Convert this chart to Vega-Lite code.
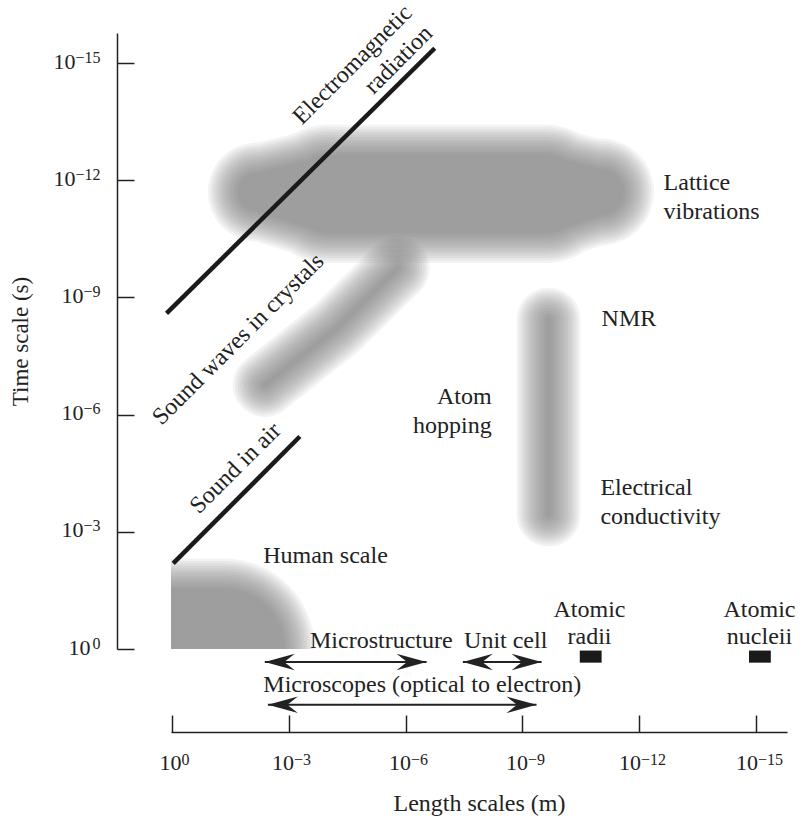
{
  "$schema": "https://vega.github.io/schema/vega-lite/v6.json",
  "width": 616,
  "height": 616,
  "autosize": {"type": "none"},
  "padding": {"left": 171, "top": 33, "right": 24, "bottom": 169},
  "background": "white",
  "config": {"view": {"stroke": null}, "font": "Liberation Serif"},
  "resolve": {"scale": {"x": "independent", "y": "independent", "size": "independent"}, "axis": {"x": "independent", "y": "independent"}},
  "datasets": {
    "blobs": [
      {"blob": "Sound waves in crystals", "seq": 1, "x": 2.39, "y": 6.76, "h": 0.1},
      {"blob": "Sound waves in crystals", "seq": 2, "x": 4.24, "y": 8.22, "h": 0.1},
      {"blob": "Sound waves in crystals", "seq": 3, "x": 5.8, "y": 9.75, "h": 0.1},
      {"blob": "NMR / conductivity", "seq": 1, "x": 9.67, "y": 8.43, "h": 0.1},
      {"blob": "NMR / conductivity", "seq": 2, "x": 9.67, "y": 3.44, "h": 0.1},
      {"blob": "Lattice vibrations", "seq": 1, "x": 2.2, "y": 11.7, "h": 1.0},
      {"blob": "Lattice vibrations", "seq": 2, "x": 4.0, "y": 11.65, "h": 2.0},
      {"blob": "Lattice vibrations", "seq": 3, "x": 9.6, "y": 11.65, "h": 2.0},
      {"blob": "Lattice vibrations", "seq": 4, "x": 11.0, "y": 11.7, "h": 1.2},
      {"blob": "Human scale", "seq": 1, "x": -2, "y": 0, "h": 3.1},
      {"blob": "Human scale", "seq": 2, "x": 1.35, "y": 0, "h": 3.1}
    ],
    "lines": [
      {"line": "Electromagnetic radiation", "x": -0.13, "y": 8.59},
      {"line": "Electromagnetic radiation", "x": 6.75, "y": 15.38},
      {"line": "Sound in air", "x": 0.04, "y": 2.19},
      {"line": "Sound in air", "x": 3.29, "y": 5.44}
    ],
    "arrows": [
      {"arrow": "Microstructure", "end": "left", "x": 2.39, "y": -0.33},
      {"arrow": "Microstructure", "end": "right", "x": 6.54, "y": -0.33},
      {"arrow": "Unit cell", "end": "left", "x": 7.47, "y": -0.33},
      {"arrow": "Unit cell", "end": "right", "x": 9.49, "y": -0.33},
      {"arrow": "Microscopes", "end": "left", "x": 2.47, "y": -1.43},
      {"arrow": "Microscopes", "end": "right", "x": 9.36, "y": -1.43}
    ],
    "markers": [
      {"marker": "Atomic radii", "x": 10.47, "x2": 11.03, "y": -0.35, "y2": -0.04},
      {"marker": "Atomic nucleii", "x": 14.81, "x2": 15.37, "y": -0.35, "y2": -0.04}
    ],
    "leftLabels": [
      {"label": "Lattice\nvibrations", "x": 12.62, "y": 11.75},
      {"label": "NMR", "x": 11.03, "y": 8.27},
      {"label": "Electrical\nconductivity", "x": 11.0, "y": 3.94},
      {"label": "Human scale", "x": 2.35, "y": 2.2}
    ],
    "rightLabels": [
      {"label": "Atom\nhopping", "x": 8.21, "y": 6.27}
    ],
    "centerLabels": [
      {"label": "Microstructure", "x": 5.38, "y": 0.03},
      {"label": "Unit cell", "x": 8.57, "y": 0.03},
      {"label": "Atomic\nradii", "x": 10.72, "y": 0.83},
      {"label": "Atomic\nnucleii", "x": 15.08, "y": 0.83},
      {"label": "Microscopes (optical to electron)", "x": 6.43, "y": -1.09}
    ],
    "rotRightLabels": [
      {"label": "Electromagnetic\nradiation", "x": 6.2, "y": 16.25}
    ],
    "rotCenterLabels": [
      {"label": "Sound waves in crystals", "x": 1.84, "y": 7.8},
      {"label": "Sound in air", "x": 1.77, "y": 4.5}
    ]
  },
  "encoding": {
    "x": {"field": "x", "type": "quantitative", "scale": {"domain": [-0.015, 15.785], "nice": false, "zero": false}, "axis": null},
    "y": {"field": "y", "type": "quantitative", "scale": {"domain": [0, 15.77], "nice": false, "zero": false}, "axis": null}
  },
  "layer": [
    {"data": {"name": "blobs"}, "mark": {"type": "trail", "color": "#777777", "opacity": 0.092, "clip": true}, "encoding": {"detail": {"field": "blob"}, "order": {"field": "seq"}, "size": {"field": "h", "type": "quantitative", "scale": {"domain": [0, 15.77], "range": [0, 616]}, "legend": null}}},
    {"data": {"name": "blobs"}, "mark": {"type": "trail", "color": "#777777", "opacity": 0.092, "clip": true}, "encoding": {"detail": {"field": "blob"}, "order": {"field": "seq"}, "size": {"field": "h", "type": "quantitative", "scale": {"domain": [0, 15.77], "range": [5, 621]}, "legend": null}}},
    {"data": {"name": "blobs"}, "mark": {"type": "trail", "color": "#777777", "opacity": 0.092, "clip": true}, "encoding": {"detail": {"field": "blob"}, "order": {"field": "seq"}, "size": {"field": "h", "type": "quantitative", "scale": {"domain": [0, 15.77], "range": [10, 626]}, "legend": null}}},
    {"data": {"name": "blobs"}, "mark": {"type": "trail", "color": "#777777", "opacity": 0.092, "clip": true}, "encoding": {"detail": {"field": "blob"}, "order": {"field": "seq"}, "size": {"field": "h", "type": "quantitative", "scale": {"domain": [0, 15.77], "range": [15, 631]}, "legend": null}}},
    {"data": {"name": "blobs"}, "mark": {"type": "trail", "color": "#777777", "opacity": 0.092, "clip": true}, "encoding": {"detail": {"field": "blob"}, "order": {"field": "seq"}, "size": {"field": "h", "type": "quantitative", "scale": {"domain": [0, 15.77], "range": [20, 636]}, "legend": null}}},
    {"data": {"name": "blobs"}, "mark": {"type": "trail", "color": "#777777", "opacity": 0.092, "clip": true}, "encoding": {"detail": {"field": "blob"}, "order": {"field": "seq"}, "size": {"field": "h", "type": "quantitative", "scale": {"domain": [0, 15.77], "range": [25, 641]}, "legend": null}}},
    {"data": {"name": "blobs"}, "mark": {"type": "trail", "color": "#777777", "opacity": 0.092, "clip": true}, "encoding": {"detail": {"field": "blob"}, "order": {"field": "seq"}, "size": {"field": "h", "type": "quantitative", "scale": {"domain": [0, 15.77], "range": [30, 646]}, "legend": null}}},
    {"data": {"name": "blobs"}, "mark": {"type": "trail", "color": "#777777", "opacity": 0.092, "clip": true}, "encoding": {"detail": {"field": "blob"}, "order": {"field": "seq"}, "size": {"field": "h", "type": "quantitative", "scale": {"domain": [0, 15.77], "range": [35, 651]}, "legend": null}}},
    {"data": {"name": "blobs"}, "mark": {"type": "trail", "color": "#777777", "opacity": 0.092, "clip": true}, "encoding": {"detail": {"field": "blob"}, "order": {"field": "seq"}, "size": {"field": "h", "type": "quantitative", "scale": {"domain": [0, 15.77], "range": [40, 656]}, "legend": null}}},
    {"data": {"name": "blobs"}, "mark": {"type": "trail", "color": "#777777", "opacity": 0.092, "clip": true}, "encoding": {"detail": {"field": "blob"}, "order": {"field": "seq"}, "size": {"field": "h", "type": "quantitative", "scale": {"domain": [0, 15.77], "range": [45, 661]}, "legend": null}}},
    {"data": {"name": "blobs"}, "mark": {"type": "trail", "color": "#777777", "opacity": 0.092, "clip": true}, "encoding": {"detail": {"field": "blob"}, "order": {"field": "seq"}, "size": {"field": "h", "type": "quantitative", "scale": {"domain": [0, 15.77], "range": [50, 666]}, "legend": null}}},
    {"data": {"name": "blobs"}, "mark": {"type": "trail", "color": "#777777", "opacity": 0.092, "clip": true}, "encoding": {"detail": {"field": "blob"}, "order": {"field": "seq"}, "size": {"field": "h", "type": "quantitative", "scale": {"domain": [0, 15.77], "range": [55, 671]}, "legend": null}}},
    {"data": {"name": "blobs"}, "mark": {"type": "trail", "color": "#777777", "opacity": 0.092, "clip": true}, "encoding": {"detail": {"field": "blob"}, "order": {"field": "seq"}, "size": {"field": "h", "type": "quantitative", "scale": {"domain": [0, 15.77], "range": [60, 676]}, "legend": null}}},
    {"data": {"name": "lines"}, "mark": {"type": "line", "strokeWidth": 4.5, "color": "#1a1a1a", "strokeCap": "butt"}, "encoding": {"detail": {"field": "line"}}},
    {"data": {"name": "arrows"}, "mark": {"type": "line", "strokeWidth": 2, "color": "#222222"}, "encoding": {"detail": {"field": "arrow"}}},
    {
      "data": {"name": "arrows"},
      "mark": {"type": "point", "filled": true, "size": 900, "opacity": 1, "color": "#222222", "strokeWidth": 0},
      "encoding": {"shape": {"field": "end", "type": "nominal", "scale": {"domain": ["left", "right"], "range": ["M0,0L2,-0.55L1.3,0L2,0.55Z", "M0,0L-2,-0.55L-1.3,0L-2,0.55Z"]}, "legend": null}}
    },
    {
      "data": {"name": "markers"},
      "mark": {"type": "rect", "color": "#1a1a1a"},
      "encoding": {
        "x": {
          "field": "x", "type": "quantitative",
          "scale": {"domain": [-0.015, 15.785], "nice": false, "zero": false},
          "axis": {
            "title": "Length scales (m)", "orient": "bottom", "offset": 83,
            "values": [0, 3, 6, 9, 12, 15],
            "labelExpr": "'10'", "labelAlign": "right",
            "labelOffset": {"condition": [{"test": "datum.value == 0", "value": 9.5}, {"test": "datum.value >= 12", "value": 1}], "value": 5},
            "grid": false, "tickSize": -17, "tickWidth": 1.5, "tickColor": "#222222",
            "domainColor": "#222222", "domainWidth": 1.5,
            "labelFont": "Liberation Serif", "labelFontSize": 22, "labelColor": "#222222",
            "labelPadding": 37, "labelFlush": false, "labelOverlap": false,
            "titleFont": "Liberation Serif", "titleFontSize": 24, "titleFontWeight": "normal",
            "titleColor": "#222222", "titlePadding": 18
          }
        },
        "x2": {"field": "x2"},
        "y": {
          "field": "y", "type": "quantitative",
          "scale": {"domain": [0, 15.77], "nice": false, "zero": false},
          "axis": {
            "title": "Time scale (s)", "orient": "left", "offset": 54,
            "values": [0, 3, 6, 9, 12, 15],
            "labelExpr": "'10'", "labelAlign": "right",
            "labelPadding": {"condition": [{"test": "datum.value >= 12", "value": 59}, {"test": "datum.value == 0", "value": 44}], "value": 51},
            "labelOffset": -2,
            "grid": false, "tickSize": -17, "tickWidth": 1.5, "tickColor": "#222222",
            "domainColor": "#222222", "domainWidth": 1.5,
            "labelFont": "Liberation Serif", "labelFontSize": 22, "labelColor": "#222222",
            "labelFlush": false, "labelOverlap": false,
            "titleFont": "Liberation Serif", "titleFontSize": 23, "titleFontWeight": "normal",
            "titleColor": "#222222", "titlePadding": 21
          }
        },
        "y2": {"field": "y2"}
      }
    },
    {"data": {"name": "leftLabels"}, "mark": {"type": "text", "align": "left", "baseline": "alphabetic", "font": "Liberation Serif", "fontSize": 24, "lineHeight": 29, "lineBreak": "\n", "color": "#222222"}, "encoding": {"text": {"field": "label"}}},
    {"data": {"name": "rightLabels"}, "mark": {"type": "text", "align": "right", "baseline": "alphabetic", "font": "Liberation Serif", "fontSize": 24, "lineHeight": 29, "lineBreak": "\n", "color": "#222222"}, "encoding": {"text": {"field": "label"}}},
    {
      "data": {"name": "centerLabels"},
      "mark": {"type": "text", "align": "center", "baseline": "alphabetic", "font": "Liberation Serif", "fontSize": 24, "lineHeight": 27, "lineBreak": "\n", "color": "#222222"},
      "encoding": {
        "text": {"field": "label"},
        "x": {
          "field": "x", "type": "quantitative",
          "scale": {"domain": [-0.015, 15.785], "nice": false, "zero": false},
          "axis": {
            "title": null, "orient": "bottom", "offset": 83,
            "values": [0, 3, 6, 9, 12, 15],
            "labelExpr": "datum.value == 0 ? '0' : '−' + datum.value", "labelAlign": "left",
            "labelOffset": {"condition": [{"test": "datum.value == 0", "value": 9.5}, {"test": "datum.value >= 12", "value": 1}], "value": 5},
            "grid": false, "ticks": false, "domain": false,
            "labelFont": "Liberation Serif", "labelFontSize": 16, "labelColor": "#222222",
            "labelPadding": 19, "labelFlush": false, "labelOverlap": false
          }
        },
        "y": {
          "field": "y", "type": "quantitative",
          "scale": {"domain": [0, 15.77], "nice": false, "zero": false},
          "axis": {
            "title": null, "orient": "left", "offset": 54,
            "values": [0, 3, 6, 9, 12, 15],
            "labelExpr": "datum.value == 0 ? '0' : '−' + datum.value", "labelAlign": "right",
            "labelPadding": 17, "labelOffset": -6,
            "grid": false, "ticks": false, "domain": false,
            "labelFont": "Liberation Serif", "labelFontSize": 16, "labelColor": "#222222",
            "labelFlush": false, "labelOverlap": false
          }
        }
      }
    },
    {"data": {"name": "rotRightLabels"}, "mark": {"type": "text", "align": "right", "baseline": "alphabetic", "angle": 315, "font": "Liberation Serif", "fontSize": 24, "lineHeight": 29, "lineBreak": "\n", "color": "#222222"}, "encoding": {"text": {"field": "label"}}},
    {"data": {"name": "rotCenterLabels"}, "mark": {"type": "text", "align": "center", "baseline": "alphabetic", "angle": 315, "font": "Liberation Serif", "fontSize": 24, "lineHeight": 29, "lineBreak": "\n", "color": "#222222"}, "encoding": {"text": {"field": "label"}}}
  ]
}
